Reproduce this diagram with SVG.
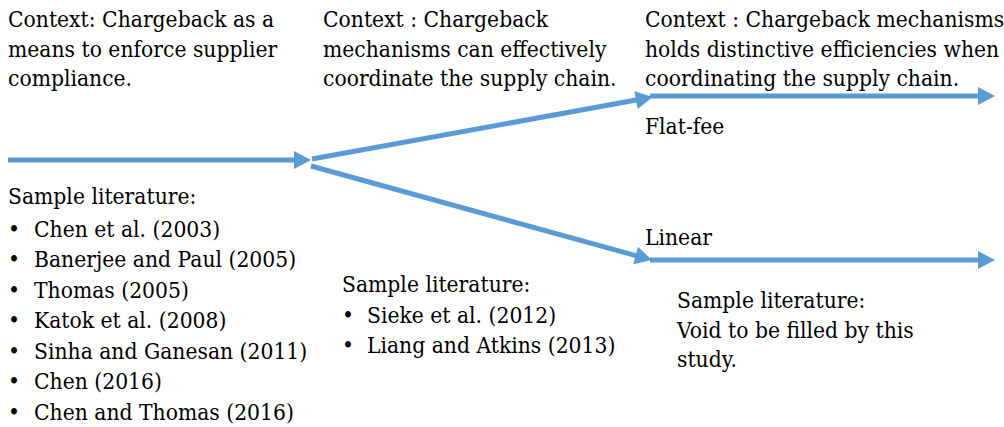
<svg xmlns="http://www.w3.org/2000/svg" width="1004" height="427" viewBox="0 0 1004 427">
<style>
text{font-family:"DejaVu Serif","Liberation Serif",serif;font-size:23px;fill:#000}
.c{stroke:#5B9BD5;stroke-width:5;fill:none}
</style>
<defs>
<marker id="ah" markerUnits="userSpaceOnUse" markerWidth="18" markerHeight="18" viewBox="0 0 17 18" refX="3" refY="9" orient="auto">
<path d="M0,0 L17,9 L0,18 z" fill="#5B9BD5"/>
</marker>
</defs>
<rect width="1004" height="427" fill="#fff"/>
<g id="connectors">
<line class="c" x1="8" y1="160" x2="297" y2="160" marker-end="url(#ah)"/>
<line class="c" x1="312" y1="159" x2="639" y2="99.5" marker-end="url(#ah)"/>
<line class="c" x1="311" y1="166" x2="638.5" y2="256.3" marker-end="url(#ah)"/>
<line class="c" x1="650" y1="96" x2="981" y2="96" marker-end="url(#ah)"/>
<line class="c" x1="650" y1="260" x2="981" y2="260" marker-end="url(#ah)"/>
</g>
<g id="context1" transform="translate(8,0) scale(0.885,1)">
<text x="0" y="27">Context: Chargeback as a</text>
<text x="0" y="57">means to enforce supplier</text>
<text x="0" y="86">compliance.</text>
</g>
<g id="context2" transform="translate(323,0) scale(0.885,1)">
<text x="0" y="27">Context : Chargeback</text>
<text x="0" y="57">mechanisms can effectively</text>
<text x="0" y="86">coordinate the supply chain.</text>
</g>
<g id="context3" transform="translate(645,0) scale(0.885,1)">
<text x="0" y="27">Context : Chargeback mechanisms</text>
<text x="0" y="57">holds distinctive efficiencies when</text>
<text x="0" y="86">coordinating the supply chain.</text>
</g>
<g id="flatfee" transform="translate(645,0) scale(0.885,1)"><text x="0" y="134">Flat-fee</text></g>
<g id="linear" transform="translate(645,0) scale(0.885,1)"><text x="0" y="245">Linear</text></g>
<g id="lit1" transform="translate(8,0) scale(0.885,1)">
<text x="0" y="204">Sample literature:</text>
<text x="0" y="237">•</text><text x="29.4" y="237">Chen et al. (2003)</text>
<text x="0" y="267.5">•</text><text x="29.4" y="267.5">Banerjee and Paul (2005)</text>
<text x="0" y="298">•</text><text x="29.4" y="298">Thomas (2005)</text>
<text x="0" y="328.5">•</text><text x="29.4" y="328.5">Katok et al. (2008)</text>
<text x="0" y="359">•</text><text x="29.4" y="359">Sinha and Ganesan (2011)</text>
<text x="0" y="389.5">•</text><text x="29.4" y="389.5">Chen (2016)</text>
<text x="0" y="420">•</text><text x="29.4" y="420">Chen and Thomas (2016)</text>
</g>
<g id="lit2" transform="translate(342,0) scale(0.885,1)">
<text x="0" y="292">Sample literature:</text>
<text x="0" y="323">•</text><text x="28.2" y="323">Sieke et al. (2012)</text>
<text x="0" y="353">•</text><text x="28.2" y="353">Liang and Atkins (2013)</text>
</g>
<g id="lit3" transform="translate(677,0) scale(0.885,1)">
<text x="0" y="308">Sample literature:</text>
<text x="0" y="338">Void to be filled by this</text>
<text x="0" y="367">study.</text>
</g>
</svg>
